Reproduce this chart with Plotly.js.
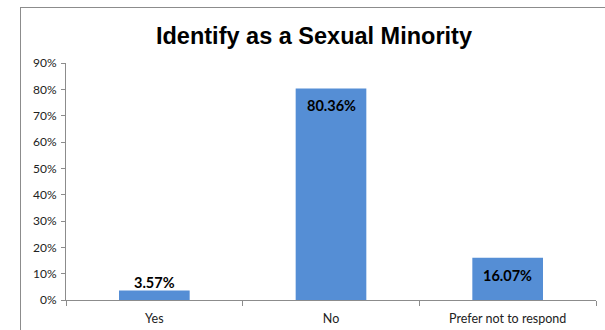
<!DOCTYPE html>
<html>
<head>
<meta charset="utf-8">
<script src="https://cdn.plot.ly/plotly-3.0.1.min.js"></script>
<style>
  html, body { margin: 0; padding: 0; background: #fff; }
  #wrap { position: relative; width: 605px; height: 330px; overflow: hidden; }
  #frame { position: absolute; left: 20px; top: 7px; width: 700px; height: 400px;
           border-left: 1px solid #8c8c8c; border-top: 1px solid #8c8c8c; pointer-events: none; }
  #chart { position: absolute; left: 0; top: 0; width: 605px; height: 330px; }
</style>
</head>
<body>
<div id="wrap">
  <div id="chart"></div>
  <div id="frame"></div>
</div>
<script>
const categories = ["Yes", "No", "Prefer not to respond"];
const values = [0.0357, 0.8036, 0.1607];
const labels = ["3.57%", "80.36%", "16.07%"];
const chartTitle = "Identify as a Sexual Minority";

const labelFont = { family: "Lato, 'Open Sans', sans-serif", size: 14.5, color: "#000", weight: "bold" };

const trace = {
  type: "bar",
  x: categories,
  y: values,
  marker: { color: "#558ed5" },
  width: 0.4,
  hoverinfo: "none"
};

// Data labels: small bars get the label just above the bar, others inside near the top
const annotations = categories.map((c, i) => {
  const outside = values[i] < 0.08;
  return {
    x: c, y: values[i], xref: "x", yref: "y",
    text: "<b>" + labels[i] + "</b>",
    showarrow: false,
    font: labelFont,
    xanchor: "center",
    yanchor: outside ? "bottom" : "top",
    yshift: outside ? -2 : -7
  };
});

const layout = {
  width: 605, height: 330,
  margin: { l: 66, r: 9, t: 63, b: 30 },
  paper_bgcolor: "rgba(0,0,0,0)",
  plot_bgcolor: "rgba(0,0,0,0)",
  showlegend: false,
  font: { family: "Lato, 'Open Sans', sans-serif", size: 12, color: "#222" },
  title: {
    text: "<b>" + chartTitle + "</b>",
    font: { family: "'Liberation Sans', Arial, sans-serif", size: 23.5, color: "#000" },
    x: 314/605, xref: "container", xanchor: "center",
    y: 1 - 36/330, yref: "container", yanchor: "middle"
  },
  xaxis: {
    type: "category",
    showgrid: false,
    showline: true, linecolor: "#8c8c8c", linewidth: 1,
    ticks: "outside", tickson: "boundaries", ticklen: 5, tickcolor: "#8c8c8c",
    tickfont: { size: 12.5, color: "#222" },
    ticklabelstandoff: 7,
    fixedrange: true
  },
  yaxis: {
    range: [0, 0.9],
    dtick: 0.1, tick0: 0,
    tickformat: ".0%",
    showgrid: false, zeroline: false,
    showline: true, linecolor: "#8c8c8c", linewidth: 1,
    ticks: "outside", ticklen: 4, tickcolor: "#8c8c8c",
    tickfont: { size: 12, color: "#222" },
    ticklabelstandoff: 2,
    fixedrange: true
  },
  annotations: annotations,
  bargap: 0.6
};

Plotly.newPlot("chart", [trace], layout, { displayModeBar: false, staticPlot: true });
</script>
</body>
</html>
